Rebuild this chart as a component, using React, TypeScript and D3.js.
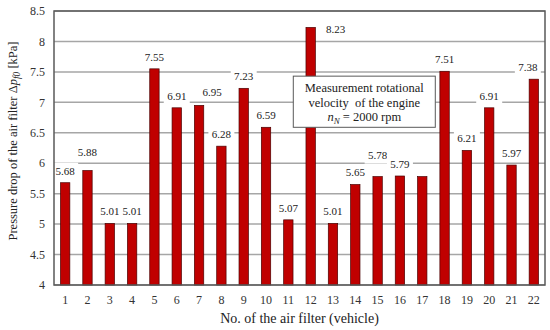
import React, { useEffect, useRef } from "react";
import * as d3 from "d3";

const filters = d3.range(1, 23).map(String);
const pressureDrop = [5.68, 5.88, 5.01, 5.01, 7.55, 6.91, 6.95, 6.28, 7.23, 6.59, 5.07, 8.23, 5.01, 5.65, 5.78, 5.79, 5.78, 7.51, 6.21, 6.91, 5.97, 7.38];
// labels printed over the bars (bar 17 has none in the original)
const barLabels = ["5.68", "5.88", "5.01", "5.01", "7.55", "6.91", "6.95", "6.28", "7.23", "6.59", "5.07", "8.23", "5.01", "5.65", "5.78", "5.79", "", "7.51", "6.21", "6.91", "5.97", "7.38"];
const yTicks = [4, 4.5, 5, 5.5, 6, 6.5, 7, 7.5, 8, 8.5];

const W = 550, H = 330;
const margin = { top: 11, right: 5, bottom: 45, left: 54 };
const FONT = "'Liberation Serif', 'Times New Roman', serif";

// hand nudges for labels that were dragged aside in the original (dx, dy)
const nudge: Record<number, [number, number]> = {
  1: [0, -6],
  6: [13, -1],
  11: [25, 14],
  14: [0, -9],
  21: [-6, 0],
};

export default function App() {
  const ref = useRef<SVGSVGElement>(null);

  useEffect(() => {
    const svg = d3.select(ref.current);
    svg.selectAll("*").remove();

    const x = d3.scaleBand()
      .domain(filters)
      .range([margin.left, W - margin.right])
      .paddingInner(0.58)
      .paddingOuter(0.29);
    const y = d3.scaleLinear()
      .domain([4, 8.5])
      .range([H - margin.bottom, margin.top]);

    const g = svg.append("g");

    // gridlines
    g.append("g")
      .selectAll("line")
      .data(yTicks)
      .join("line")
        .attr("x1", margin.left)
        .attr("x2", W - margin.right)
        .attr("y1", d => y(d))
        .attr("y2", d => y(d))
        .attr("stroke", "#a6a6a6")
        .attr("stroke-width", 1.5);

    // bars
    g.append("g")
      .selectAll("rect")
      .data(pressureDrop)
      .join("rect")
        .attr("x", (d, i) => x(filters[i])!)
        .attr("width", x.bandwidth())
        .attr("y", d => y(d))
        .attr("height", d => y(4) - y(d))
        .attr("fill", "#c00000")
        .attr("stroke", "#4a0000")
        .attr("stroke-width", 0.7);

    // value labels with white box behind
    const lab = g.append("g")
      .selectAll("g")
      .data(pressureDrop.map((v, i) => ({ v, i, t: barLabels[i] })).filter(d => d.t !== ""))
      .join("g")
        .attr("transform", d => {
          const [dx, dy] = nudge[d.i] || [0, 0];
          return `translate(${x(filters[d.i])! + x.bandwidth() / 2 + dx},${y(d.v) - 12 + dy})`;
        });
    lab.append("rect")
      .attr("x", -13).attr("y", -8)
      .attr("width", 26).attr("height", 16)
      .attr("fill", "white");
    lab.append("text")
      .attr("text-anchor", "middle")
      .attr("dy", "0.35em")
      .style("font-family", FONT)
      .style("font-size", "11px")
      .attr("fill", "#222")
      .text(d => d.t);

    // frame
    g.append("rect")
      .attr("x", margin.left)
      .attr("y", margin.top)
      .attr("width", W - margin.left - margin.right)
      .attr("height", H - margin.top - margin.bottom)
      .attr("fill", "none")
      .attr("stroke", "#595959")
      .attr("stroke-width", 1.5);

    // y ticks
    g.append("g")
      .selectAll("text")
      .data(yTicks)
      .join("text")
        .attr("x", margin.left - 9)
        .attr("y", d => y(d))
        .attr("dy", "0.35em")
        .attr("text-anchor", "end")
        .style("font-family", FONT)
        .style("font-size", "12px")
        .attr("fill", "#333")
        .text(d => String(d));

    // x ticks
    g.append("g")
      .selectAll("text")
      .data(filters)
      .join("text")
        .attr("x", d => x(d)! + x.bandwidth() / 2)
        .attr("y", H - margin.bottom + 19)
        .attr("text-anchor", "middle")
        .style("font-family", FONT)
        .style("font-size", "12px")
        .attr("fill", "#333")
        .text(d => d);

    // axis titles
    g.append("text")
      .attr("x", (margin.left + W - margin.right) / 2)
      .attr("y", H - 7)
      .attr("text-anchor", "middle")
      .style("font-family", FONT)
      .style("font-size", "14px")
      .attr("fill", "#222")
      .text("No. of the air filter (vehicle)");

    const yt = g.append("text")
      .attr("transform", `translate(17,141) rotate(-90)`)
      .attr("text-anchor", "middle")
      .style("font-family", FONT)
      .style("font-size", "12.5px")
      .attr("fill", "#222");
    yt.append("tspan").text("Pressure drop of the air filter \u0394");
    yt.append("tspan").style("font-style", "italic").text("p");
    yt.append("tspan").style("font-style", "italic").style("font-size", "9.5px").attr("dy", 3).text("f0");
    yt.append("tspan").attr("dy", -3).text(" [kPa]");

    // annotation box
    const bx = x("13")! - 35, by = y(7.43);
    const bw = 142, bh = y(6.59) - y(7.43);
    const box = g.append("g");
    box.append("rect")
      .attr("x", bx).attr("y", by)
      .attr("width", bw).attr("height", bh)
      .attr("fill", "white")
      .attr("stroke", "#595959")
      .attr("stroke-width", 1);
    const lines = ["Measurement rotational", "velocity  of the engine"];
    box.selectAll("text.l")
      .data(lines)
      .join("text")
        .attr("class", "l")
        .attr("x", bx + bw / 2)
        .attr("y", (d, i) => by + 16 + i * 14.5)
        .attr("text-anchor", "middle")
        .style("font-family", FONT)
        .style("font-size", "12.5px")
        .style("white-space", "pre")
        .attr("fill", "#222")
        .text(d => d);
    const t3 = box.append("text")
      .attr("x", bx + bw / 2)
      .attr("y", by + 45)
      .attr("text-anchor", "middle")
      .style("font-family", FONT)
      .style("font-size", "12.5px")
      .attr("fill", "#222");
    t3.append("tspan").style("font-style", "italic").text("n");
    t3.append("tspan").style("font-style", "italic").style("font-size", "9px").attr("dy", 3).text("N");
    t3.append("tspan").attr("dy", -3).text(" = 2000 rpm");
  }, []);

  return (
    <svg ref={ref} width={W} height={H} style={{ display: "block", position: "absolute", left: 0, top: 0 }} />
  );
}
